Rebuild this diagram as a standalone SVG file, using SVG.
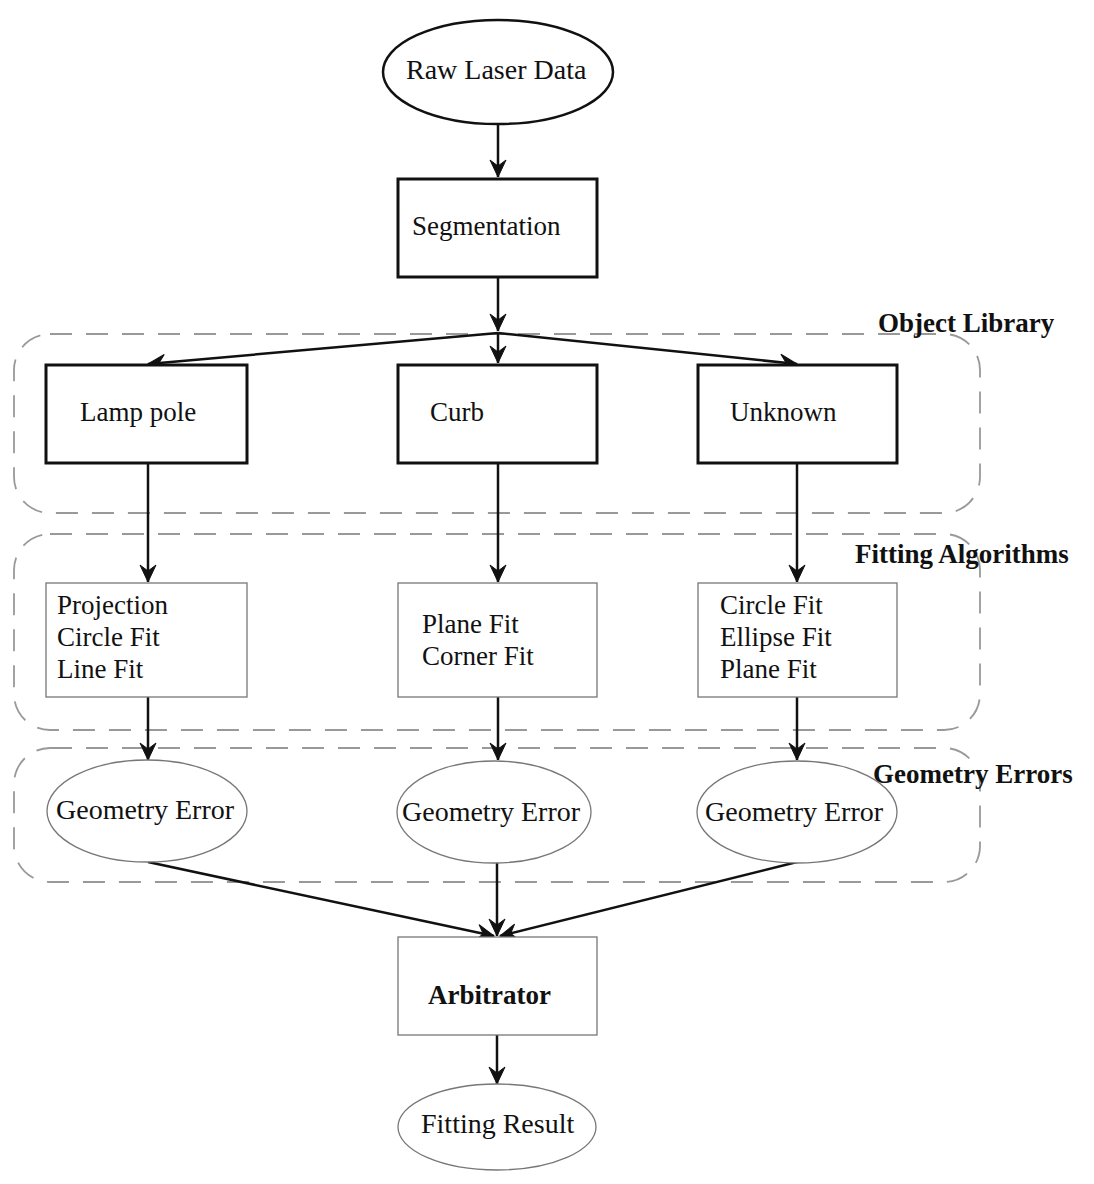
<svg xmlns="http://www.w3.org/2000/svg" width="1094" height="1184" viewBox="0 0 1094 1184">
<style>
text{font-family:"Liberation Serif","Times New Roman",serif;font-size:27px;fill:#111}
.e{font-size:28px}
.b{font-weight:bold}
.thick{fill:#fff;stroke:#111;stroke-width:3}
.thin{fill:#fff;stroke:#777;stroke-width:1.3}
.grp{fill:none;stroke:#999;stroke-width:1.8;stroke-dasharray:22 14}
.c{fill:none;stroke:#111;stroke-width:2.5}
</style>
<defs>
<marker id="ah" viewBox="-18 -9 20 18" refX="0" refY="0" markerWidth="20" markerHeight="18" markerUnits="userSpaceOnUse" orient="auto">
<path d="M0,0 L-17,-8 L-11,0 L-17,8 Z" fill="#111" stroke="#111" stroke-width="1"/>
</marker>
</defs>
<rect width="1094" height="1184" fill="#fff"/>
<g id="groups">
<rect class="grp" x="14" y="334" width="966" height="179" rx="36"/>
<rect class="grp" x="14" y="534" width="966" height="196" rx="36"/>
<rect class="grp" x="14" y="748" width="966" height="134" rx="36"/>
<text class="b" x="878" y="332">Object Library</text>
<text class="b" x="855" y="563">Fitting Algorithms</text>
<text class="b" x="873" y="783">Geometry Errors</text>
</g>
<g id="connectors">
<line class="c" x1="498" y1="124" x2="498" y2="177" marker-end="url(#ah)"/>
<line class="c" x1="498" y1="277" x2="498" y2="331" marker-end="url(#ah)"/>
<line class="c" x1="498" y1="333" x2="498" y2="363" marker-end="url(#ah)"/>
<line class="c" x1="498" y1="333" x2="148" y2="364" marker-end="url(#ah)"/>
<line class="c" x1="498" y1="333" x2="797" y2="364" marker-end="url(#ah)"/>
<line class="c" x1="148" y1="463" x2="148" y2="582" marker-end="url(#ah)"/>
<line class="c" x1="498" y1="463" x2="498" y2="582" marker-end="url(#ah)"/>
<line class="c" x1="797" y1="463" x2="797" y2="582" marker-end="url(#ah)"/>
<line class="c" x1="148" y1="697" x2="148" y2="760" marker-end="url(#ah)"/>
<line class="c" x1="498" y1="697" x2="498" y2="760" marker-end="url(#ah)"/>
<line class="c" x1="797" y1="697" x2="797" y2="760" marker-end="url(#ah)"/>
<line class="c" x1="148" y1="862" x2="494" y2="936" marker-end="url(#ah)"/>
<line class="c" x1="497" y1="862" x2="497" y2="936" marker-end="url(#ah)"/>
<line class="c" x1="797" y1="862" x2="500" y2="936" marker-end="url(#ah)"/>
<line class="c" x1="497" y1="1035" x2="497" y2="1084" marker-end="url(#ah)"/>
</g>
<g id="raw">
<ellipse cx="498" cy="72" rx="115" ry="52" fill="#fff" stroke="#111" stroke-width="2.5"/>
<text class="e" x="406" y="79">Raw Laser Data</text>
</g>
<g id="segmentation">
<rect class="thick" x="398" y="179" width="199" height="98"/>
<text x="412" y="235">Segmentation</text>
</g>
<g id="lamppole">
<rect class="thick" x="46" y="365" width="201" height="98"/>
<text x="80" y="421">Lamp pole</text>
</g>
<g id="curb">
<rect class="thick" x="398" y="365" width="199" height="98"/>
<text x="430" y="421">Curb</text>
</g>
<g id="unknown">
<rect class="thick" x="698" y="365" width="199" height="98"/>
<text x="730" y="421">Unknown</text>
</g>
<g id="fit-lamp">
<rect class="thin" x="46" y="583" width="201" height="114"/>
<text x="57" y="614">Projection</text>
<text x="57" y="646">Circle Fit</text>
<text x="57" y="678">Line Fit</text>
</g>
<g id="fit-curb">
<rect class="thin" x="398" y="583" width="199" height="114"/>
<text x="422" y="633">Plane Fit</text>
<text x="422" y="665">Corner Fit</text>
</g>
<g id="fit-unknown">
<rect class="thin" x="698" y="583" width="199" height="114"/>
<text x="720" y="614">Circle Fit</text>
<text x="720" y="646">Ellipse Fit</text>
<text x="720" y="678">Plane Fit</text>
</g>
<g id="err-lamp">
<ellipse class="thin" cx="147" cy="811" rx="100" ry="51"/>
<text class="e" x="56" y="819">Geometry Error</text>
</g>
<g id="err-curb">
<ellipse class="thin" cx="494" cy="812" rx="97" ry="51"/>
<text class="e" x="402" y="821">Geometry Error</text>
</g>
<g id="err-unknown">
<ellipse class="thin" cx="797" cy="812" rx="100" ry="51"/>
<text class="e" x="705" y="821">Geometry Error</text>
</g>
<g id="arbitrator">
<rect class="thin" x="398" y="937" width="199" height="98"/>
<text class="b" x="428" y="1004">Arbitrator</text>
</g>
<g id="result">
<ellipse class="thin" cx="497" cy="1127" rx="99" ry="43"/>
<text class="e" x="421" y="1133">Fitting Result</text>
</g>
</svg>
